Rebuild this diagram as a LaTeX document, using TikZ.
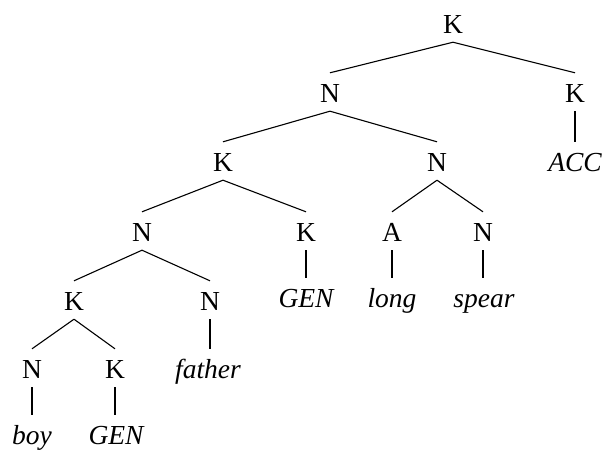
\documentclass[tikz,border=0pt]{standalone}
\usepackage{fontspec}
\setmainfont{Liberation Serif}
\begin{document}
\begin{tikzpicture}[x=1pt,y=-1pt,
  lab/.style={font=\fontsize{27.5}{30}\selectfont, text height=20pt, text depth=0pt,
              inner ysep=9pt, inner xsep=1pt, anchor=base},
  word/.style={lab, font=\fontsize{27.5}{30}\selectfont\itshape},
  branch/.style={line width=1.1pt},
  stem/.style={line width=2pt}]
\useasboundingbox (0,0) rectangle (605,450);

% category labels
\node[lab] (root) at (453,33) {K};
\node[lab] (n2)   at (330,102) {N};
\node[lab] (k2)   at (575,102) {K};
\node[lab] (k3)   at (223,171) {K};
\node[lab] (n3)   at (437,171) {N};
\node[lab] (n4)   at (142,241) {N};
\node[lab] (k4)   at (306,241) {K};
\node[lab] (a4)   at (392,241) {A};
\node[lab] (n4b)  at (483,241) {N};
\node[lab] (k5)   at (74,310) {K};
\node[lab] (n5)   at (210,310) {N};
\node[lab] (n6)   at (32,378) {N};
\node[lab] (k6)   at (115,378) {K};

% words
\node[word] (acc)    at (575,171) {ACC};
\node[word] (gen1)   at (306,307) {GEN};
\node[word] (long)   at (392,307) {long};
\node[word] (spear)  at (484,307) {spear};
\node[word] (father) at (208,378) {father};
\node[word] (boy)    at (32,444) {boy};
\node[word] (gen2)   at (116,444) {GEN};

% branches
\draw[branch] (root.south) -- (n2.north);
\draw[branch] (root.south) -- (k2.north);
\draw[branch] (n2.south) -- (k3.north);
\draw[branch] (n2.south) -- (n3.north);
\draw[branch] (k3.south) -- (n4.north);
\draw[branch] (k3.south) -- (k4.north);
\draw[branch] (n3.south) -- (a4.north);
\draw[branch] (n3.south) -- (n4b.north);
\draw[branch] (n4.south) -- (k5.north);
\draw[branch] (n4.south) -- (n5.north);
\draw[branch] (k5.south) -- (n6.north);
\draw[branch] (k5.south) -- (k6.north);

% stems down to the words
\draw[stem] (k2.south) -- (k2.south |- acc.north);
\draw[stem] (k4.south) -- (k4.south |- gen1.north);
\draw[stem] (a4.south) -- (a4.south |- long.north);
\draw[stem] (n4b.south) -- (n4b.south |- spear.north);
\draw[stem] (n5.south) -- (n5.south |- father.north);
\draw[stem] (n6.south) -- (n6.south |- boy.north);
\draw[stem] (k6.south) -- (k6.south |- gen2.north);
\end{tikzpicture}
\end{document}
